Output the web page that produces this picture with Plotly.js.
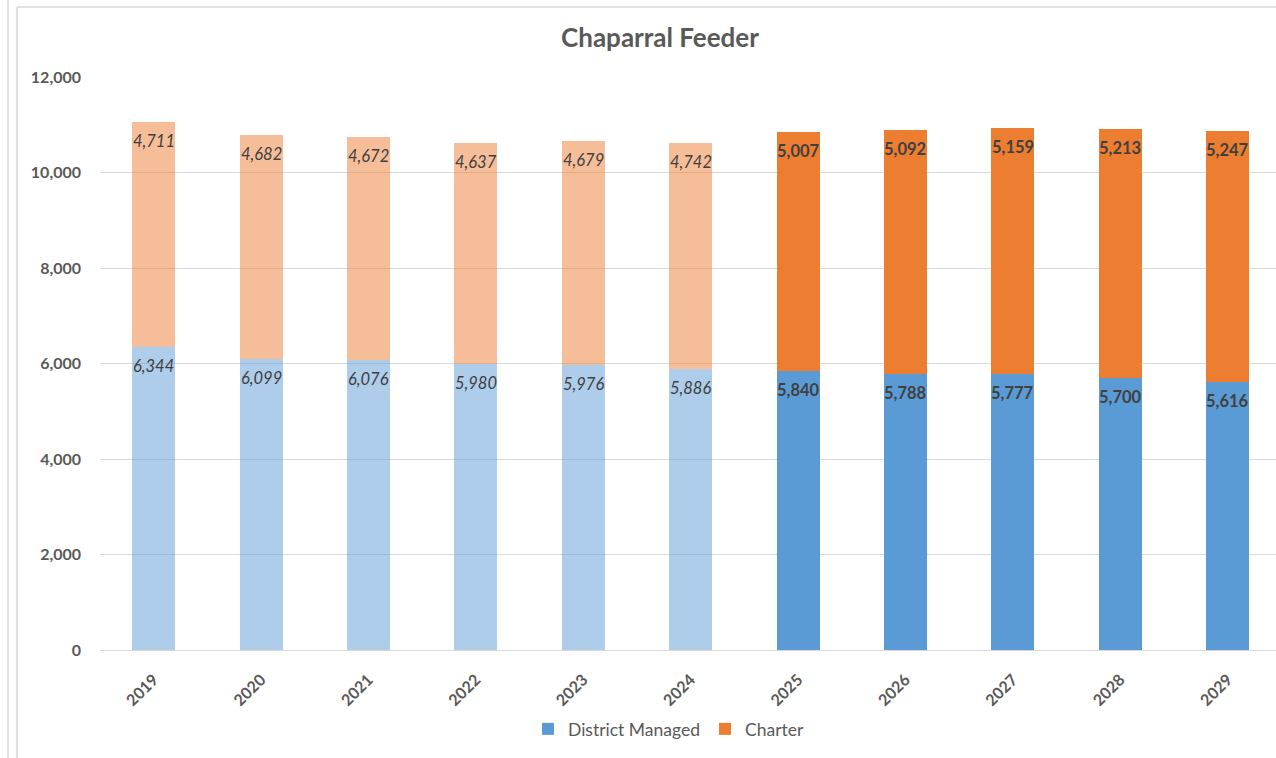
<!DOCTYPE html>
<html>
<head>
<meta charset="utf-8">
<script src="https://cdn.plot.ly/plotly-3.0.1.min.js"></script>
<style>html,body{margin:0;padding:0;background:#fff;}#chart{width:1276px;height:758px;}</style>
</head>
<body>
<div id="chart"></div>
<script>
const histYears = ['2019','2020','2021','2022','2023','2024'];
const histDistrict = [6344, 6099, 6076, 5980, 5976, 5886];
const histCharter = [4711, 4682, 4672, 4637, 4679, 4742];
const projYears = ['2025','2026','2027','2028','2029'];
const projDistrict = [5840, 5788, 5777, 5700, 5616];
const projCharter = [5007, 5092, 5159, 5213, 5247];
const yTicks = [0, 2000, 4000, 6000, 8000, 10000, 12000];

const BLUE = '#5B9BD5', ORANGE = '#ED7D31';
const BLUE_L = 'rgba(91,155,213,0.5)', ORANGE_L = 'rgba(237,125,49,0.5)';
const W = 0.4;
const fontFam = 'Lato, "Open Sans", sans-serif';
const allYears = histYears.concat(projYears);

function fmt(v) { return String(v).replace(/\B(?=(\d{3})+(?!\d))/g, ','); }

function barTrace(xs, ys, color, name, showlegend) {
  return {type:'bar', x:xs, y:ys, width:W, name:name, showlegend:showlegend, marker:{color:color}, hoverinfo:'skip'};
}

const traces = [
  barTrace(histYears, histDistrict, BLUE_L, 'District Managed (hist)', false),
  barTrace(histYears, histCharter, ORANGE_L, 'Charter (hist)', false),
  barTrace(projYears, projDistrict, BLUE, 'District Managed', true),
  barTrace(projYears, projCharter, ORANGE, 'Charter', true)
];

// data labels at the top (inside end) of each stacked segment
const annotations = [];
function addLabels(xs, base, top, italic) {
  xs.forEach(function(yr, i) {
    const xi = allYears.indexOf(yr); // category axis: serial index
    const wrap = t => italic ? '<i>' + t + '</i>' : '<b>' + t + '</b>';
    const font = {family: fontFam, size: 16.5, color: '#404040'};
    annotations.push({x: xi, y: base[i], xref:'x', yref:'y', text: wrap(fmt(base[i])), showarrow:false, yshift:-19, font: font});
    annotations.push({x: xi, y: base[i] + top[i], xref:'x', yref:'y', text: wrap(fmt(top[i])), showarrow:false, yshift:-19, font: font});
  });
}
addLabels(histYears, histDistrict, histCharter, true);
addLabels(projYears, projDistrict, projCharter, false);

const lineC = '#D9D9D9';
const shapes = [
  {type:'line', xref:'paper', yref:'paper', x0:-0.0782, x1:-0.0782, y0:-0.19, y1:1.14, line:{color:lineC, width:1.5}},
  {type:'line', xref:'paper', yref:'paper', x0:-0.0706, x1:-0.0706, y0:-0.19, y1:1.1222, line:{color:lineC, width:1.5}},
  {type:'line', xref:'paper', yref:'paper', x0:-0.0706, x1:1.01, y0:1.1222, y1:1.1222, line:{color:lineC, width:1.5}}
];

const layout = {
  width:1276, height:758,
  margin:{l:100, r:0, t:77, b:108, pad:0},
  paper_bgcolor:'#ffffff', plot_bgcolor:'#ffffff',
  barmode:'stack',
  font:{family: fontFam, color:'#595959'},
  title:{text:'<b>Chaparral Feeder</b>', font:{family: fontFam, size:26, color:'#595959'}, x:660/1276, xref:'container', xanchor:'center', y:1-38/758, yref:'container', yanchor:'middle'},
  xaxis:{type:'category', categoryorder:'array', categoryarray:allYears, range:[-0.5, 10.45], tickangle:-45, showgrid:false, ticks:'', showline:true, linecolor:lineC, linewidth:1,
    ticklabelstandoff:13, tickfont:{family: fontFam, size:16, color:'#595959', weight:'bold'}, fixedrange:true},
  yaxis:{range:[0,12000], tickvals:yTicks, ticktext:yTicks.map(fmt), showgrid:true, gridcolor:lineC, gridwidth:1, zeroline:true, zerolinecolor:lineC,
    ticks:'', ticklabelstandoff:18, tickfont:{family: fontFam, size:16, color:'#595959', weight:'bold'}, fixedrange:true},
  legend:{orientation:'h', x:(669-100)/1176, xanchor:'center', y:(650-729)/573, yanchor:'middle', font:{family: fontFam, size:17.5, color:'#595959'}, traceorder:'normal', itemwidth:30},
  annotations: annotations,
  shapes: shapes,
  showlegend:true
};

Plotly.newPlot('chart', traces, layout, {displayModeBar:false});
</script>
</body>
</html>
